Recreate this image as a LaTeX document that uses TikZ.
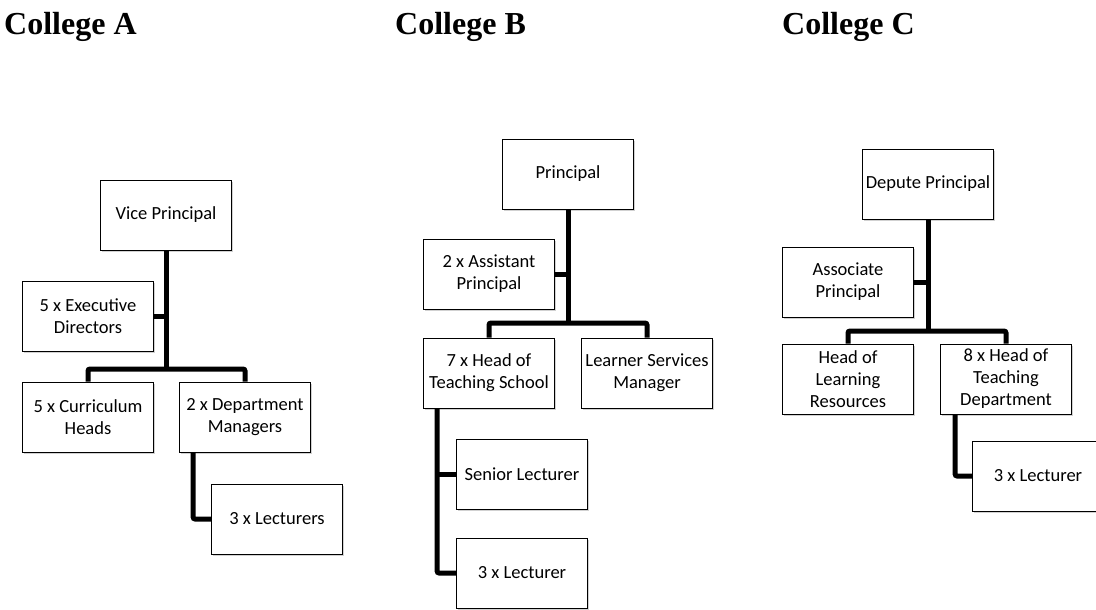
\documentclass[tikz,border=0pt]{standalone}
\usepackage{fontspec}
\setmainfont{Liberation Serif}
\newfontfamily\boxfont{Carlito}
\usepackage{tikz}
\usetikzlibrary{positioning,shadows,calc}
\newcommand\BoxW{131pt}
\newcommand\BoxH{70pt}
\tikzset{
  post/.style={
    shape = rectangle,
    draw = black,
    line width = 0.8pt,
    fill = white,
    minimum width = \BoxW,
    minimum height = \BoxH,
    inner sep = 2pt,
    align = center,
    font = \boxfont\fontsize{18.5}{22}\selectfont,
    drop shadow = {shadow xshift=1.5pt, shadow yshift=-1.5pt, fill=black!30, opacity=0.6}
  },
}
\tikzset{
  link/.style={
    draw = black,
    line width = 5pt,
    rounded corners = 2pt
  },
  college/.style={
    anchor = base west,
    inner sep = 0pt,
    font = \bfseries\fontsize{32}{36}\selectfont
  },
}

\begin{document}
\begin{tikzpicture}[x=1pt,y=-1pt]
    \clip (0,0) rectangle (1096,610);

    % titles
    \node[college] (titA) at (4,35) {College A};
    \node[college] (titB) at (395,35) {College B};
    \node[college] (titC) at (782,35) {College C};

    % College A
    \node[post] (vpA) at (166,215) {Vice Principal};
    \node[post] (edA) at (88,316) {5 x Executive\\Directors};
    \node[post] (chA) at (88,417) {5 x Curriculum\\Heads};
    \node[post] (dmA) at (245,417) {2 x Department\\Managers};
    \node[post] (lcA) at (277,519) {3 x Lecturers};
    \coordinate (busA) at (166,369);
    \coordinate (dropA) at ([xshift=14pt]dmA.south west);
    \draw[link] (vpA.south) -- (busA);
    \draw[link] (edA.east) -- (edA.east -| busA);
    \draw[link] (chA.north) |- (busA) -| (dmA.north);
    \draw[link] (dropA) |- (lcA.west);

    % College B
    \node[post] (prB) at (568,174) {Principal};
    \node[post] (apB) at (489,274) {2 x Assistant\\Principal};
    \node[post] (htB) at (489,373) {7 x Head of\\Teaching School};
    \node[post] (lsB) at (647,373) {Learner Services\\Manager};
    \node[post] (slB) at (522,474) {Senior Lecturer};
    \node[post] (lcB) at (522,573) {3 x Lecturer};
    \coordinate (busB) at (568,323);
    \coordinate (dropB) at ([xshift=14pt]htB.south west);
    \draw[link] (prB.south) -- (busB);
    \draw[link] (apB.east) -- (apB.east -| busB);
    \draw[link] (htB.north) |- (busB) -| (lsB.north);
    \draw[link] (dropB) |- (lcB.west);
    \draw[link] (dropB |- slB.west) -- (slB.west);

    % College C
    \node[post] (dpC) at (928,184) {Depute Principal};
    \node[post] (asC) at (848,282) {Associate\\Principal};
    \node[post] (hlC) at (848,379) {Head of\\Learning\\Resources};
    \node[post] (htC) at (1006,379) {8 x Head of\\Teaching\\Department};
    \node[post] (lcC) at (1038,476) {3 x Lecturer};
    \coordinate (busC) at (928,331);
    \coordinate (dropC) at ([xshift=15pt]htC.south west);
    \draw[link] (dpC.south) -- (busC);
    \draw[link] (asC.east) -- (asC.east -| busC);
    \draw[link] (hlC.north) |- (busC) -| (htC.north);
    \draw[link] (dropC) |- (lcC.west);
\end{tikzpicture}
\end{document}
